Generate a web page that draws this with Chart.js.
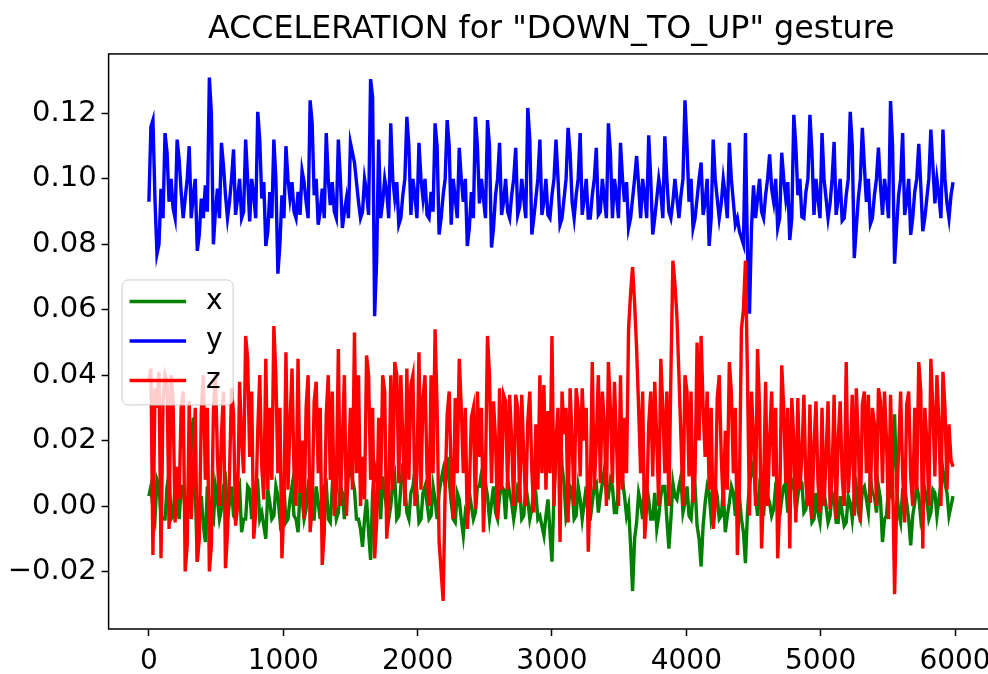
<!DOCTYPE html>
<html>
<head>
<meta charset="utf-8">
<title>ACCELERATION for "DOWN_TO_UP" gesture</title>
<script src="https://cdn.jsdelivr.net/npm/chart.js@4.4.1/dist/chart.umd.min.js"></script>
<style>
  html, body { margin: 0; padding: 0; background: #fff; overflow: hidden; }
  #wrap { width: 1000px; height: 674px; }
</style>
</head>
<body>
<div id="wrap"><canvas id="accChart" width="1000" height="674"></canvas></div>
<script>
const chartTitle = 'ACCELERATION for "DOWN_TO_UP" gesture';
const seriesLabels = ['x', 'y', 'z'];
const seriesColors = ['#008000', '#0000ff', '#ff0000'];
const sampleStep = 15; // one value kept every 15 samples
const xTicks = [0, 1000, 2000, 3000, 4000, 5000, 6000];
const yTicks = [-0.02, 0, 0.02, 0.04, 0.06, 0.08, 0.10, 0.12];

const accX = [
  0.003,0.006,-0.001,-0.004,0.008,0.006,-0.003,-0.004,-0.004,0.006,0.010,-0.004,-0.003,0.006,0.002,-0.004,0.006,0.006,-0.002,-0.004,
  0.011,0.020,0.027,0.005,-0.017,-0.004,0.003,-0.006,-0.011,0.006,0.001,-0.004,-0.005,0.006,0.002,-0.004,-0.001,0.006,0.008,-0.004,
  0.001,0.006,-0.003,-0.004,0.004,0.006,-0.008,-0.004,-0.004,0.006,0.005,-0.004,0.002,0.006,0.007,-0.004,-0.002,-0.006,-0.010,0.005,
  0.001,-0.004,-0.003,0.006,0.003,-0.004,0.000,0.006,-0.005,-0.004,0.002,0.006,-0.003,-0.004,-0.008,0.005,0.002,-0.004,-0.001,0.006,
  0.004,-0.004,-0.004,0.006,0.001,-0.004,0.004,0.006,0.007,-0.004,-0.005,0.006,0.002,-0.004,-0.002,0.006,0.004,-0.004,0.006,0.009,
  0.013,0.008,0.005,-0.004,-0.004,-0.007,-0.0125,-0.004,0.002,-0.008,-0.0165,0.004,0.012,0.008,0.005,-0.004,0.009,0.004,-0.001,-0.004,
  0.000,0.006,0.009,-0.004,-0.003,0.006,0.013,0.006,-0.002,-0.004,0.004,0.006,0.011,0.004,-0.005,-0.004,0.004,0.006,0.001,-0.004,
  -0.003,0.006,0.002,-0.004,0.004,0.008,0.011,0.006,0.015,0.008,0.001,-0.004,-0.005,0.004,0.002,-0.004,-0.009,-0.002,-0.004,0.004,
  0.000,-0.004,-0.002,0.006,0.006,0.010,0.013,0.007,0.003,-0.004,0.001,0.006,-0.002,-0.004,0.003,0.006,0.005,-0.004,0.008,0.004,
  0.001,-0.004,0.000,0.006,0.005,-0.004,-0.003,0.006,0.002,-0.004,-0.001,0.006,0.004,-0.004,-0.003,-0.006,-0.009,-0.003,0.002,-0.008,
  -0.017,0.004,0.015,0.022,0.026,0.012,0.007,-0.004,-0.002,0.006,0.005,-0.004,-0.003,0.006,0.002,-0.004,0.001,0.006,-0.004,-0.004,
  0.001,0.006,0.007,-0.002,0.003,0.007,0.011,0.004,0.003,0.008,0.006,-0.002,-0.002,0.006,0.013,0.008,0.003,-0.003,0.000,-0.012,
  -0.026,-0.010,-0.005,0.004,0.001,-0.004,0.007,0.006,0.002,-0.004,-0.004,0.004,-0.007,-0.003,0.003,0.006,0.006,-0.004,-0.013,-0.004,
  0.007,0.003,0.002,0.006,0.009,-0.002,0.001,0.006,-0.003,-0.004,0.004,0.006,-0.006,-0.010,-0.0185,-0.006,0.001,0.006,0.004,-0.004,
  -0.001,0.006,0.003,-0.004,-0.003,0.005,-0.008,-0.003,0.001,0.006,0.004,-0.003,0.007,0.003,-0.004,-0.008,-0.0175,-0.002,0.007,0.010,
  0.013,0.004,-0.003,0.006,0.004,-0.003,0.007,0.003,0.001,-0.003,-0.001,0.006,0.005,-0.003,0.002,0.006,0.007,-0.002,0.003,0.008,
  0.007,-0.002,0.003,0.008,0.007,-0.002,-0.001,0.005,0.002,-0.005,-0.004,0.004,-0.002,-0.005,0.003,0.004,0.000,-0.005,-0.003,0.004,
  0.002,-0.005,-0.005,0.003,-0.002,-0.006,-0.005,0.003,0.001,-0.004,0.003,0.006,-0.002,-0.004,0.005,0.006,0.002,-0.002,0.009,0.004,
  0.003,-0.002,0.006,0.002,-0.011,-0.004,-0.003,0.006,0.004,0.012,0.028,0.006,-0.002,-0.005,0.005,0.006,0.001,-0.004,-0.012,-0.003,
  0.001,0.006,0.003,-0.004,-0.001,0.005,0.002,-0.004,-0.002,0.005,0.004,-0.003,0.002,0.007,0.011,0.007,0.004,-0.003,0.000,0.003
];
const accY = [
  0.093,0.116,0.118,0.094,0.077,0.080,0.097,0.088,0.114,0.108,0.093,0.100,0.091,0.088,0.112,0.106,0.096,0.088,0.094,0.100,
  0.110,0.088,0.095,0.100,0.078,0.083,0.094,0.088,0.098,0.090,0.131,0.120,0.080,0.090,0.097,0.088,0.111,0.104,0.095,0.088,
  0.093,0.100,0.109,0.089,0.094,0.100,0.088,0.090,0.112,0.100,0.087,0.100,0.095,0.088,0.1205,0.112,0.094,0.099,0.0795,0.084,
  0.096,0.088,0.112,0.100,0.071,0.080,0.095,0.088,0.110,0.100,0.094,0.099,0.090,0.088,0.096,0.089,0.1025,0.099,0.093,0.088,
  0.124,0.117,0.095,0.100,0.086,0.090,0.097,0.088,0.114,0.100,0.092,0.099,0.090,0.088,0.112,0.100,0.085,0.090,0.094,0.088,
  0.111,0.108,0.105,0.099,0.093,0.088,0.090,0.100,0.096,0.089,0.1305,0.125,0.058,0.075,0.112,0.088,0.093,0.100,0.096,0.088,
  0.117,0.100,0.094,0.099,0.086,0.088,0.095,0.100,0.119,0.110,0.089,0.100,0.095,0.088,0.111,0.100,0.094,0.100,0.089,0.088,
  0.096,0.090,0.117,0.110,0.083,0.088,0.095,0.100,0.118,0.110,0.086,0.100,0.094,0.088,0.1095,0.100,0.093,0.100,0.0795,0.085,
  0.096,0.088,0.119,0.110,0.0925,0.100,0.094,0.088,0.118,0.110,0.079,0.085,0.095,0.100,0.111,0.089,0.093,0.100,0.090,0.088,
  0.095,0.100,0.1095,0.089,0.0915,0.100,0.094,0.088,0.1217,0.112,0.083,0.088,0.094,0.100,0.112,0.089,0.093,0.100,0.089,0.088,
  0.095,0.100,0.112,0.100,0.086,0.088,0.094,0.100,0.1156,0.108,0.093,0.088,0.095,0.100,0.114,0.089,0.094,0.100,0.088,0.088,
  0.095,0.100,0.1095,0.089,0.090,0.100,0.094,0.088,0.117,0.108,0.088,0.100,0.095,0.088,0.111,0.100,0.093,0.099,0.085,0.088,
  0.094,0.100,0.107,0.098,0.088,0.100,0.095,0.088,0.1133,0.100,0.083,0.088,0.094,0.100,0.096,0.088,0.113,0.100,0.090,0.088,
  0.093,0.100,0.094,0.088,0.095,0.100,0.124,0.110,0.093,0.100,0.085,0.088,0.094,0.100,0.105,0.089,0.093,0.100,0.0795,0.088,
  0.112,0.100,0.094,0.088,0.0925,0.100,0.095,0.088,0.111,0.100,0.093,0.086,0.088,0.084,0.082,0.080,0.114,0.078,0.0588,0.085,
  0.098,0.088,0.094,0.100,0.090,0.088,0.095,0.100,0.1075,0.097,0.093,0.100,0.085,0.088,0.108,0.100,0.094,0.099,0.0813,0.088,
  0.1196,0.110,0.095,0.100,0.0884,0.088,0.096,0.100,0.1196,0.108,0.089,0.100,0.094,0.088,0.114,0.100,0.094,0.088,0.0925,0.100,
  0.1113,0.089,0.094,0.100,0.0872,0.088,0.095,0.100,0.1205,0.110,0.0758,0.085,0.094,0.100,0.1156,0.104,0.093,0.100,0.0862,0.088,
  0.095,0.100,0.1096,0.098,0.089,0.100,0.095,0.088,0.1238,0.110,0.0741,0.085,0.095,0.100,0.114,0.089,0.093,0.100,0.0829,0.088,
  0.096,0.100,0.1107,0.098,0.084,0.088,0.094,0.100,0.1151,0.104,0.0925,0.100,0.095,0.088,0.1151,0.100,0.0925,0.088,0.095,0.099
];
const accZ = [
  0.038,0.042,-0.015,0.036,0.030,0.041,-0.016,0.032,0.040,0.038,-0.007,0.040,0.032,-0.005,0.012,0.002,0.030,0.035,-0.020,-0.012,
  0.032,-0.004,0.010,0.030,-0.017,-0.010,0.029,0.040,0.008,0.030,-0.020,-0.012,0.029,0.041,0.015,0.000,0.022,0.035,-0.019,-0.008,
  0.010,0.036,0.028,-0.006,0.000,0.038,0.020,0.010,0.052,0.045,0.015,0.035,-0.010,-0.002,0.023,0.040,0.012,0.002,0.045,0.005,
  0.030,0.008,0.055,0.040,0.010,0.030,-0.016,0.000,0.047,0.005,0.025,0.042,0.010,0.000,0.045,0.004,0.020,-0.004,0.030,0.040,
  -0.008,0.000,0.032,0.038,0.010,0.030,-0.018,-0.008,0.028,0.040,0.008,0.035,-0.003,0.005,0.048,0.000,0.020,0.040,-0.003,0.012,
  0.030,0.005,0.053,0.010,0.040,0.000,0.015,0.002,0.046,0.040,0.008,0.030,-0.016,-0.005,0.027,0.005,0.040,0.035,-0.010,0.000,
  0.040,0.005,0.044,0.040,0.007,0.040,0.020,0.000,0.042,0.008,0.037,0.040,0.000,0.010,0.047,0.005,0.033,0.040,0.010,0.000,
  0.040,0.010,0.054,0.030,-0.011,-0.020,-0.029,0.005,0.028,0.035,0.009,-0.004,0.033,0.010,0.045,0.030,0.010,0.030,-0.007,0.005,
  0.027,0.030,-0.001,0.035,0.015,0.030,-0.008,0.010,0.052,0.040,0.007,0.032,0.020,-0.004,0.036,0.005,0.034,0.032,0.005,0.034,
  0.020,0.000,0.034,0.030,0.001,0.034,0.015,0.000,0.026,0.035,0.011,-0.002,0.025,0.005,0.040,0.010,0.037,0.005,0.029,0.010,
  0.052,0.000,0.020,0.030,-0.011,0.035,0.022,0.030,-0.005,0.036,0.020,0.000,0.036,0.030,0.009,0.036,0.020,0.030,-0.014,0.005,
  0.044,0.005,0.020,0.040,0.007,0.035,0.025,0.000,0.044,0.030,0.007,0.038,0.020,0.000,0.040,0.005,0.027,0.010,0.054,0.065,
  0.073,0.062,0.048,0.030,0.010,0.035,-0.010,0.000,0.025,0.035,0.009,0.038,0.020,0.000,0.045,0.030,0.010,0.035,0.000,0.040,
  0.075,0.068,0.058,0.040,0.021,0.000,0.040,0.035,0.009,0.035,0.001,0.010,0.050,0.020,0.052,0.030,0.015,0.035,0.005,0.030,
  -0.007,0.000,0.033,0.040,0.015,0.000,0.023,0.005,0.044,0.035,0.010,0.030,-0.015,0.005,0.054,0.060,0.075,0.040,-0.003,0.035,
  0.021,0.000,0.048,0.030,-0.013,0.005,0.038,0.000,0.020,0.035,0.009,0.030,-0.016,0.000,0.043,0.030,0.007,0.030,-0.013,0.033,
  0.020,-0.005,0.033,0.005,0.015,0.034,0.007,0.000,0.031,-0.004,0.018,0.032,0.007,-0.002,0.030,0.000,0.015,0.032,-0.001,0.010,
  0.034,-0.004,0.020,0.032,0.009,0.000,0.044,0.004,0.015,0.034,-0.003,0.036,0.020,-0.005,0.031,0.035,0.010,0.034,0.001,0.030,
  0.025,0.000,0.036,0.032,0.007,0.035,0.020,-0.004,0.034,0.010,-0.027,0.000,0.017,0.035,0.010,-0.005,0.031,0.035,0.009,0.000,
  0.030,0.005,0.044,0.035,-0.013,0.030,0.020,0.000,0.045,0.030,0.009,0.040,0.025,0.000,0.041,0.030,0.005,0.025,0.014,0.012
];

function toPoints(values) {
    return values.map((v, i) => ({ x: i * sampleStep, y: v }));
}

const tickFont = { family: 'DejaVu Sans', size: 28 };

// axes frame and the boxed legend in the middle left of the plot
const frameAndLegend = {
    id: 'frameAndLegend',
    afterDatasetsDraw(chart) {
        const { ctx, chartArea: a } = chart;
        ctx.save();
        ctx.strokeStyle = '#000';
        ctx.lineWidth = 1.5;
        ctx.strokeRect(a.left, a.top, a.right - a.left, a.bottom - a.top);

        const bx = a.left + 13.5, by = a.top + 226, bw = 111, bh = 125;
        ctx.beginPath();
        ctx.roundRect(bx, by, bw, bh, 6);
        ctx.fillStyle = 'rgba(255,255,255,0.8)';
        ctx.fill();
        ctx.strokeStyle = '#cccccc';
        ctx.lineWidth = 1;
        ctx.stroke();

        ctx.font = tickFont.size + 'px "' + tickFont.family + '"';
        ctx.textBaseline = 'middle';
        chart.data.datasets.forEach((ds, i) => {
            const y = by + 21.5 + i * 39.5;
            ctx.strokeStyle = ds.borderColor;
            ctx.lineWidth = 3.4;
            ctx.beginPath();
            ctx.moveTo(bx + 7.5, y);
            ctx.lineTo(bx + 64, y);
            ctx.stroke();
            ctx.fillStyle = '#000';
            ctx.fillText(ds.label, bx + 84, y);
        });
        ctx.restore();
    }
};

new Chart(document.getElementById('accChart'), {
    type: 'line',
    data: {
        datasets: [
            { label: seriesLabels[0], data: toPoints(accX), borderColor: seriesColors[0], order: 3 },
            { label: seriesLabels[1], data: toPoints(accY), borderColor: seriesColors[1], order: 2 },
            { label: seriesLabels[2], data: toPoints(accZ), borderColor: seriesColors[2], order: 1 }
        ]
    },
    options: {
        responsive: false,
        animation: false,
        devicePixelRatio: 1,
        layout: { padding: { right: 6 } },
        elements: {
            point: { radius: 0 },
            line: { borderWidth: 3.4, tension: 0, fill: false }
        },
        plugins: {
            legend: { display: false },
            tooltip: { enabled: false },
            title: {
                display: true,
                fullSize: false,
                text: chartTitle,
                color: '#000',
                font: { family: 'DejaVu Sans', size: 31.7, weight: 'normal', lineHeight: 1.2 },
                padding: { top: 11, bottom: 4.9 }
            }
        },
        scales: {
            x: {
                type: 'linear',
                min: -300,
                max: 6290,
                afterBuildTicks: s => { s.ticks = xTicks.map(v => ({ value: v })); },
                afterFit: s => { s.height = 45; },
                grid: { drawOnChartArea: false, drawTicks: true, tickLength: 7, tickColor: '#000', tickWidth: 1.5 },
                border: { display: false },
                ticks: { color: '#000', font: tickFont, padding: 9, maxRotation: 0, autoSkip: false, callback: v => String(v) }
            },
            y: {
                type: 'linear',
                min: -0.0376,
                max: 0.1382,
                afterBuildTicks: s => { s.ticks = yTicks.map(v => ({ value: v })); },
                afterFit: s => { s.width = 108.6; },
                grid: { drawOnChartArea: false, drawTicks: true, tickLength: 7, tickColor: '#000', tickWidth: 1.5 },
                border: { display: false },
                ticks: {
                    color: '#000',
                    font: { family: 'DejaVu Sans', size: 29 },
                    padding: 5,
                    autoSkip: false,
                    callback: v => v.toFixed(2).replace('-', '\u2212')
                }
            }
        }
    },
    plugins: [frameAndLegend]
});
</script>
</body>
</html>
